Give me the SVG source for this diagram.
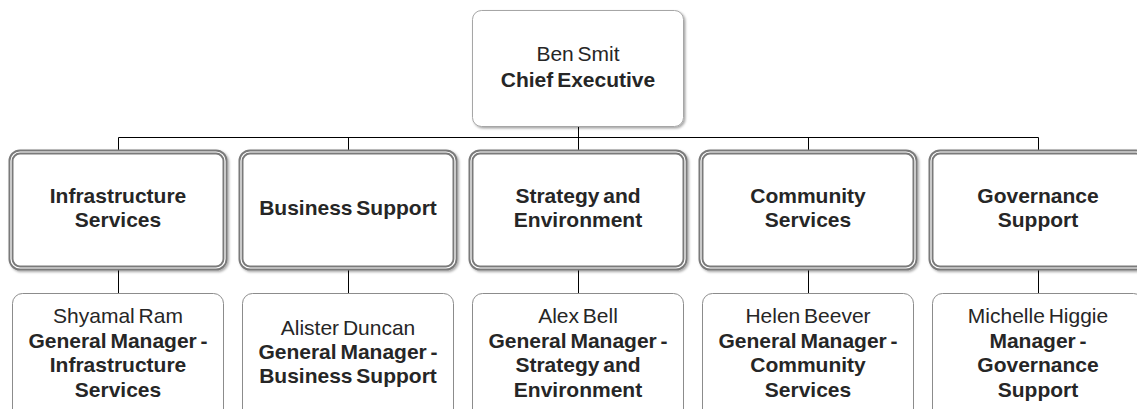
<svg xmlns="http://www.w3.org/2000/svg" width="1137" height="409" viewBox="0 0 1137 409">
<defs>
<filter id="sh" x="-10%" y="-10%" width="120%" height="130%">
<feDropShadow dx="1.5" dy="1.5" stdDeviation="1" flood-color="#000" flood-opacity="0.35"/>
</filter>
<style>
.t{font-family:"Liberation Sans",Arial,sans-serif;font-size:21px;fill:#262626;text-anchor:middle;word-spacing:-2px}
.b{font-weight:bold}
.top{fill:#fff;stroke:#a6a6a6;stroke-width:1}
.mo{fill:#fff;stroke:#7a7a7a;stroke-width:5}
.mi{fill:none;stroke:#fff;stroke-width:1.2}
.bot{fill:#fff;stroke:#8c8c8c;stroke-width:1}
.c{fill:none;stroke:#000;stroke-width:1}
</style>
</defs>
<rect width="1137" height="409" fill="#fff"/>
<g id="connectors">
<path class="c" d="M578.5 127V137.5M118.5 137.5H1038.5M118.5 137.5V150M348.5 137.5V150M578.5 127V150M808.5 137.5V150M1038.5 137.5V150"/>
<path class="c" d="M118.5 270V293M348.5 270V293M578.5 270V293M808.5 270V293M1038.5 270V293"/>
</g>
<g id="ceo">
<rect class="top" x="472.5" y="10.5" width="211" height="116" rx="9" filter="url(#sh)"/>
<text class="t" x="578" y="61">Ben Smit</text>
<text class="t b" x="578" y="87">Chief Executive</text>
</g>
<g id="infra">
<rect class="mo" x="11" y="152" width="214" height="116" rx="9" filter="url(#sh)"/>
<rect class="mi" x="11" y="152" width="214" height="116" rx="9"/>
<text class="t b" x="118" y="203">Infrastructure</text>
<text class="t b" x="118" y="227">Services</text>
</g>
<g id="business">
<rect class="mo" x="241" y="152" width="214" height="116" rx="9" filter="url(#sh)"/>
<rect class="mi" x="241" y="152" width="214" height="116" rx="9"/>
<text class="t b" x="348" y="215">Business Support</text>
</g>
<g id="strategy">
<rect class="mo" x="471" y="152" width="214" height="116" rx="9" filter="url(#sh)"/>
<rect class="mi" x="471" y="152" width="214" height="116" rx="9"/>
<text class="t b" x="578" y="203">Strategy and</text>
<text class="t b" x="578" y="227">Environment</text>
</g>
<g id="community">
<rect class="mo" x="701" y="152" width="214" height="116" rx="9" filter="url(#sh)"/>
<rect class="mi" x="701" y="152" width="214" height="116" rx="9"/>
<text class="t b" x="808" y="203">Community</text>
<text class="t b" x="808" y="227">Services</text>
</g>
<g id="governance">
<rect class="mo" x="931" y="152" width="214" height="116" rx="9" filter="url(#sh)"/>
<rect class="mi" x="931" y="152" width="214" height="116" rx="9"/>
<text class="t b" x="1038" y="203">Governance</text>
<text class="t b" x="1038" y="227">Support</text>
</g>
<g id="gm-infra">
<rect class="bot" x="12.5" y="293.5" width="211" height="130" rx="10"/>
<text class="t" x="118" y="323">Shyamal Ram</text>
<text class="t b" x="118" y="348">General Manager -</text>
<text class="t b" x="118" y="372">Infrastructure</text>
<text class="t b" x="118" y="397">Services</text>
</g>
<g id="gm-business">
<rect class="bot" x="242.5" y="293.5" width="211" height="130" rx="10"/>
<text class="t" x="348" y="335">Alister Duncan</text>
<text class="t b" x="348" y="359">General Manager -</text>
<text class="t b" x="348" y="383">Business Support</text>
</g>
<g id="gm-strategy">
<rect class="bot" x="472.5" y="293.5" width="211" height="130" rx="10"/>
<text class="t" x="578" y="323">Alex Bell</text>
<text class="t b" x="578" y="348">General Manager -</text>
<text class="t b" x="578" y="372">Strategy and</text>
<text class="t b" x="578" y="397">Environment</text>
</g>
<g id="gm-community">
<rect class="bot" x="702.5" y="293.5" width="211" height="130" rx="10"/>
<text class="t" x="808" y="323">Helen Beever</text>
<text class="t b" x="808" y="348">General Manager -</text>
<text class="t b" x="808" y="372">Community</text>
<text class="t b" x="808" y="397">Services</text>
</g>
<g id="m-governance">
<rect class="bot" x="932.5" y="293.5" width="211" height="130" rx="10"/>
<text class="t" x="1038" y="323">Michelle Higgie</text>
<text class="t b" x="1038" y="348">Manager -</text>
<text class="t b" x="1038" y="372">Governance</text>
<text class="t b" x="1038" y="397">Support</text>
</g>
</svg>
